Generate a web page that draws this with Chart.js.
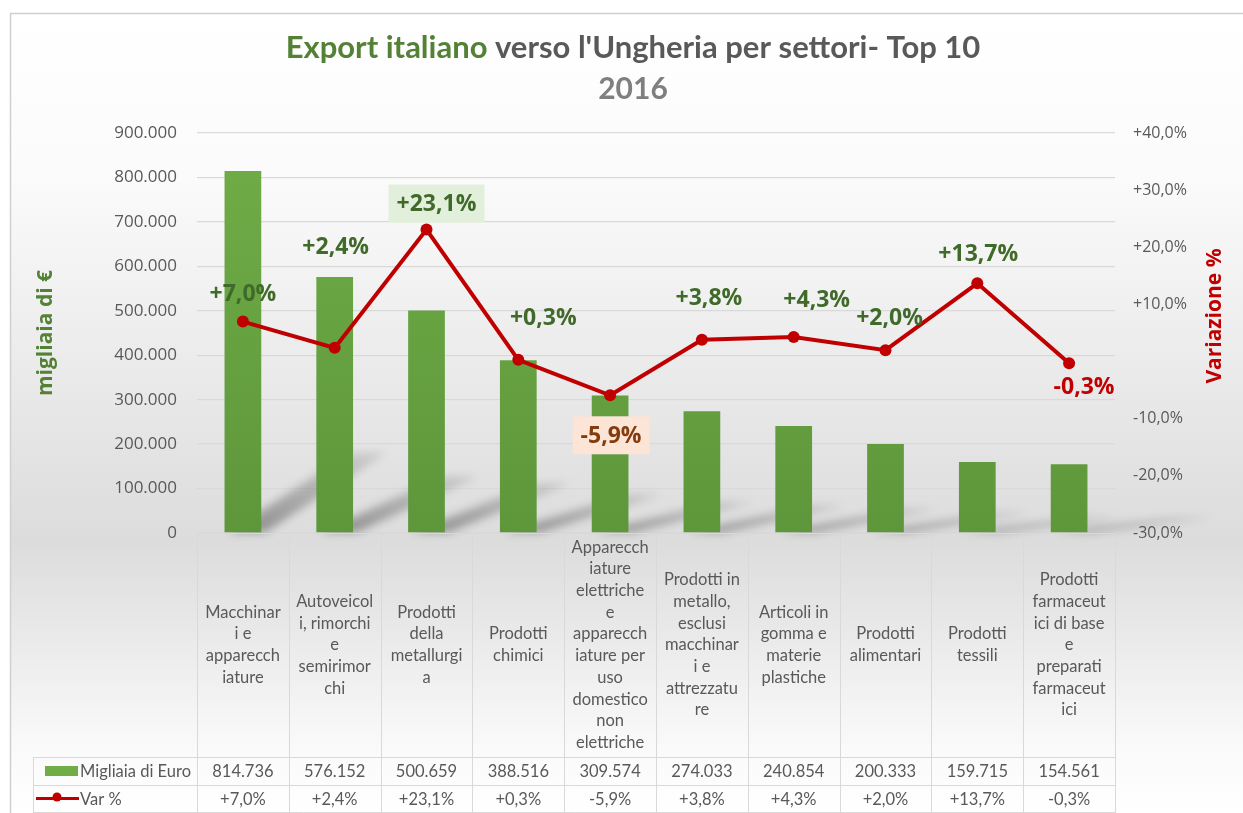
<!DOCTYPE html>
<html>
<head>
<meta charset="utf-8">
<title>Export italiano verso l'Ungheria</title>
<script src="https://cdn.jsdelivr.net/npm/chart.js@4/dist/chart.umd.min.js"></script>
<style>
  body { margin: 0; background: #fff; }
  #wrap { width: 1243px; height: 813px; }
</style>
</head>
<body>
<div id="wrap"><canvas id="export-chart" width="1243" height="813"></canvas></div>
<script>
// data
const categories = [
  ['Macchinar', 'i e', 'apparecch', 'iature'],
  ['Autoveicol', 'i, rimorchi', 'e', 'semirimor', 'chi'],
  ['Prodotti', 'della', 'metallurgi', 'a'],
  ['Prodotti', 'chimici'],
  ['Apparecch', 'iature', 'elettriche', 'e', 'apparecch', 'iature per', 'uso', 'domestico', 'non', 'elettriche'],
  ['Prodotti in', 'metallo,', 'esclusi', 'macchinar', 'i e', 'attrezzatu', 're'],
  ['Articoli in', 'gomma e', 'materie', 'plastiche'],
  ['Prodotti', 'alimentari'],
  ['Prodotti', 'tessili'],
  ['Prodotti', 'farmaceut', 'ici di base', 'e', 'preparati', 'farmaceut', 'ici']
]
const exportValues = [814736, 576152, 500659, 388516, 309574, 274033, 240854, 200333, 159715, 154561]
const varPct = [7.0, 2.4, 23.1, 0.3, -5.9, 3.8, 4.3, 2.0, 13.7, -0.3]
const leftTicks = [0, 900000, 100000]   // min, max, step
const rightTicks = [-30, 40, 10]

const seriesNames = ['Migliaia di Euro', 'Var %']
const titleParts = ['Export italiano', " verso l'Ungheria per settori- Top 10"]
const subtitle = '2016'
const rightAxisTitle = 'Variazione %'

const GREEN = '#70ad47'
const RED = '#c00000'
const LABEL_GREEN = '#3f6a29'
const GRID = '#d9d9d9'
const TXT = '#595959'

const fmtThousands = v => String(v).replace(/\B(?=(\d{3})+(?!\d))/g, '.')
const fmtPct = v => (v < 0 ? '-' : '+') + Math.abs(v).toFixed(1).replace('.', ',') + '%'

const barGradient = (ctx, area) => {
  const g = ctx.createLinearGradient(0, area.top, 0, area.bottom)
  g.addColorStop(0, '#70ad47')
  g.addColorStop(1, '#5e973b')
  return g
}

// background, outer border and two-colour title
const backgroundPlugin = {
  id: 'background',
  beforeDraw: (chart) => {
    const { ctx, width, height } = chart
    ctx.save()
    ctx.fillStyle = '#fff'
    ctx.fillRect(0, 0, width, height)
    const g = ctx.createLinearGradient(0, 13, 0, height)
    g.addColorStop(0, '#ffffff')
    g.addColorStop(0.2, '#fbfbfb')
    g.addColorStop(0.66, '#dcdcdc')
    g.addColorStop(0.92, '#fafafa')
    g.addColorStop(1, '#ffffff')
    ctx.fillStyle = g
    ctx.fillRect(10, 13, width - 10, height - 13)
    ctx.strokeStyle = '#d0d0d0'
    ctx.lineWidth = 1.5
    ctx.beginPath()
    ctx.moveTo(10.5, height)
    ctx.lineTo(10.5, 13.5)
    ctx.lineTo(width, 13.5)
    ctx.stroke()

    ctx.textBaseline = 'middle'
    ctx.font = 'bold 31px Lato, "Open Sans", sans-serif'
    const w0 = ctx.measureText(titleParts[0]).width
    const w1 = ctx.measureText(titleParts[1]).width
    const x = 633 - (w0 + w1) / 2
    ctx.textAlign = 'left'
    ctx.fillStyle = '#538135'
    ctx.fillText(titleParts[0], x, 48)
    ctx.fillStyle = TXT
    ctx.fillText(titleParts[1], x + w0, 48)
    ctx.textAlign = 'center'
    ctx.fillStyle = '#7f7f7f'
    ctx.font = 'bold 30px Lato, "Open Sans", sans-serif'
    ctx.fillText(subtitle, 633, 89)

    // right axis title sits a little above the middle in the reference
    ctx.save()
    ctx.translate(1215, 316)
    ctx.rotate(-Math.PI / 2)
    ctx.font = 'bold 21px "Open Sans", sans-serif'
    ctx.fillStyle = RED
    ctx.fillText(rightAxisTitle, 0, 0)
    ctx.restore()
    ctx.restore()
  }
}

// diagonal soft shadows behind the bars
const shadowPlugin = {
  id: 'barShadow',
  beforeDatasetsDraw: (chart) => {
    const { ctx } = chart
    const meta = chart.getDatasetMeta(0)
    ctx.save()
    ctx.filter = 'blur(4px)'
    meta.data.forEach(bar => {
      const h = bar.base - bar.y
      const half = bar.width / 2
      const sy = h * 0.22
      const sx = 125
      const g = ctx.createLinearGradient(0, bar.base, 0, bar.base - sy)
      g.addColorStop(0, 'rgba(0,0,0,0.34)')
      g.addColorStop(1, 'rgba(0,0,0,0.1)')
      ctx.fillStyle = g
      ctx.beginPath()
      ctx.moveTo(bar.x - half + 4, bar.base)
      ctx.lineTo(bar.x + half + 4, bar.base)
      ctx.lineTo(bar.x + half + sx, bar.base - sy)
      ctx.lineTo(bar.x - half + sx, bar.base - sy)
      ctx.closePath()
      ctx.fill()
    })
    ctx.restore()
  }
}

// percentage labels on the line, placed like the reference
const labelPlugin = {
  id: 'varLabels',
  afterDatasetsDraw: (chart, args, opts) => {
    const { ctx } = chart
    const meta = chart.getDatasetMeta(1)
    ctx.save()
    ctx.font = 'bold 23px "Open Sans", sans-serif'
    ctx.textAlign = 'center'
    ctx.textBaseline = 'middle'
    meta.data.forEach((pt, i) => {
      const [dx, dy] = opts.offsets[i]
      const x = pt.x + dx
      const y = pt.y + dy
      const text = fmtPct(varPct[i])
      const style = opts.styles[i] || {}
      if (style.box) {
        const w = ctx.measureText(text).width + 16
        ctx.fillStyle = style.box
        ctx.fillRect(x - w / 2, y - 19, w, 38)
      }
      ctx.fillStyle = style.color || LABEL_GREEN
      ctx.fillText(text, x, y + 1)
    })
    ctx.restore()
  }
}

// data table under the plot
const tablePlugin = {
  id: 'dataTable',
  afterDraw: (chart) => {
    const { ctx, chartArea, scales } = chart
    const xs = scales.x
    const n = categories.length
    const colW = (chartArea.right - chartArea.left) / n
    const top = chartArea.bottom
    const row1 = 757
    const row2 = 785
    const bottom = 812
    const legendLeft = 33
    ctx.save()
    ctx.strokeStyle = GRID
    ctx.lineWidth = 1
    ctx.beginPath()
    for (let i = 0; i <= n; i++) {
      const x = Math.round(chartArea.left + i * colW) + 0.5
      ctx.moveTo(x, top)
      ctx.lineTo(x, bottom)
    }
    ctx.moveTo(legendLeft + 0.5, row1)
    ctx.lineTo(legendLeft + 0.5, bottom)
    ;[row1, row2, bottom].forEach(y => {
      ctx.moveTo(legendLeft, y + 0.5)
      ctx.lineTo(chartArea.right + 1, y + 0.5)
    })
    ctx.moveTo(chartArea.left, top + 0.5)
    ctx.lineTo(chartArea.right, top + 0.5)
    ctx.stroke()

    ctx.fillStyle = TXT
    ctx.textAlign = 'center'
    ctx.textBaseline = 'middle'
    ctx.font = '16.5px Lato, "Open Sans", sans-serif'
    const lh = 21.7
    const mid = (top + row1) / 2
    categories.forEach((lines, i) => {
      const cx = xs.getPixelForValue(i)
      const y0 = mid - (lines.length - 1) * lh / 2
      lines.forEach((line, k) => ctx.fillText(line, cx, y0 + k * lh))
      ctx.fillText(fmtThousands(exportValues[i]), cx, (row1 + row2) / 2 + 1)
      ctx.fillText(fmtPct(varPct[i]), cx, (row2 + bottom) / 2 + 1)
    })

    // legend keys
    ctx.fillStyle = GREEN
    ctx.fillRect(45, 766, 33, 10)
    ctx.strokeStyle = RED
    ctx.lineWidth = 3
    ctx.beginPath()
    ctx.moveTo(36, 798.5)
    ctx.lineTo(79, 798.5)
    ctx.stroke()
    ctx.fillStyle = RED
    ctx.beginPath()
    ctx.arc(57, 797, 4.5, 0, Math.PI * 2)
    ctx.fill()
    ctx.fillStyle = TXT
    ctx.textAlign = 'left'
    ctx.fillText(seriesNames[0], 80, (row1 + row2) / 2 + 1)
    ctx.fillText(seriesNames[1], 80, (row2 + bottom) / 2 + 1)
    ctx.restore()
  }
}

const ctx = document.querySelector('#export-chart').getContext('2d')

const chart = new Chart(ctx, {
  type: 'bar',
  data: {
    labels: categories,
    datasets: [
      {
        type: 'bar',
        label: seriesNames[0],
        data: exportValues,
        yAxisID: 'y',
        order: 1,
        backgroundColor: (c) => c.chart.chartArea ? barGradient(c.chart.ctx, c.chart.chartArea) : GREEN,
        borderWidth: 0,
        categoryPercentage: 1,
        barPercentage: 0.4
      },
      {
        type: 'line',
        label: seriesNames[1],
        data: varPct,
        yAxisID: 'y2',
        order: 0,
        borderColor: RED,
        backgroundColor: RED,
        borderWidth: 4,
        pointRadius: 6,
        pointBackgroundColor: RED,
        pointBorderWidth: 0,
        tension: 0
      }
    ]
  },
  options: {
    responsive: false,
    animation: false,
    layout: { padding: { left: 10, top: 133, right: 0, bottom: 280 } },
    plugins: {
      legend: { display: false },
      title: { display: false },
      tooltip: { enabled: false },
      varLabels: {
        offsets: [[0, -28], [1, -101], [10, -26], [25, -42], [1, 40], [7, -42], [23, -38], [4, -33], [1, -30], [15, 23]],
        styles: {
          2: { box: '#e2efda' },
          4: { box: '#fce4d6', color: '#843c0c' },
          9: { color: RED }
        }
      }
    },
    scales: {
      x: { display: false, offset: true },
      y: {
        position: 'left',
        min: leftTicks[0],
        max: leftTicks[1],
        afterFit: s => { s.width = 187 },
        ticks: {
          stepSize: leftTicks[2],
          padding: 20,
          color: TXT,
          font: { family: '"Open Sans", sans-serif', size: 17 },
          callback: v => fmtThousands(v)
        },
        grid: { color: GRID, lineWidth: 1.3, drawTicks: false },
        border: { display: false },
        title: {
          display: true,
          text: 'migliaia di €',
          color: '#538135',
          font: { family: '"Open Sans", sans-serif', size: 21, weight: 'bold' },
          padding: { top: 23 }
        }
      },
      y2: {
        position: 'right',
        min: rightTicks[0],
        max: rightTicks[1],
        afterFit: s => { s.width = 128 },
        ticks: {
          stepSize: rightTicks[2],
          padding: 10,
          color: TXT,
          font: { family: '"Open Sans", sans-serif', size: 16 },
          callback: v => v === 0 ? '' : fmtPct(v)
        },
        grid: { display: false },
        border: { display: false }
      }
    }
  },
  plugins: [backgroundPlugin, shadowPlugin, labelPlugin, tablePlugin]
})
</script>
</body>
</html>
